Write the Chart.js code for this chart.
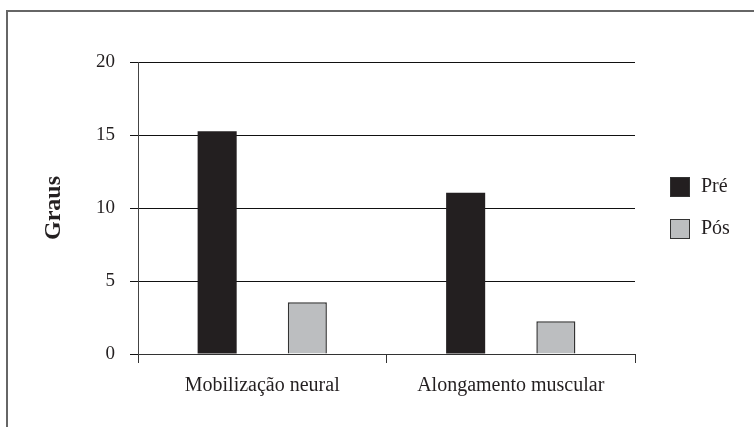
<!DOCTYPE html>
<html>
<head>
<meta charset="utf-8">
<script src="https://cdn.jsdelivr.net/npm/chart.js@4"></script>
<style>
  html, body { margin: 0; padding: 0; background: #fff; }
  #wrap { width: 754px; height: 427px; position: relative; }
</style>
</head>
<body>
<div id="wrap"><canvas id="chart"></canvas></div>
<script>
const categories = ['Mobilização neural', 'Alongamento muscular'];
const preValues = [15.25, 11.05];
const posValues = [3.55, 2.25];
const seriesNames = ['Pré', 'Pós'];
const yTicks = [0, 5, 10, 15, 20];

const FONT = "'Liberation Serif', 'Times New Roman', serif";

// frame around the figure + custom legend
const framePlugin = {
    id: 'frame',
    afterDraw(chart) {
        const ctx = chart.ctx;
        ctx.save();
        ctx.strokeStyle = '#666';
        ctx.lineWidth = 2;
        ctx.beginPath();
        ctx.moveTo(7, 430);
        ctx.lineTo(7, 11);
        ctx.lineTo(754, 11);
        ctx.stroke();

        // legend
        const area = chart.chartArea;
        const mid = (area.top + area.bottom) / 2;
        chart.data.datasets.forEach((ds, i) => {
            const y = mid - 21 + i * 42;
            ctx.fillStyle = ds.backgroundColor;
            ctx.fillRect(670, y - 10, 20, 20);
            ctx.strokeStyle = '#333';
            ctx.lineWidth = 1;
            ctx.strokeRect(670.5, y - 9.5, 19, 19);
            ctx.fillStyle = '#231f20';
            ctx.font = '20px ' + FONT;
            ctx.textBaseline = 'middle';
            ctx.fillText(ds.label, 701, y);
        });
        ctx.restore();
    }
};

new Chart(document.getElementById('chart'), {
    type: 'bar',
    data: {
        labels: categories,
        datasets: [
            {
                label: seriesNames[0],
                data: preValues,
                backgroundColor: '#231f20',
                borderColor: '#231f20',
                borderWidth: 0
            },
            {
                label: seriesNames[1],
                data: posValues,
                backgroundColor: '#bcbec0',
                borderColor: '#333',
                borderWidth: 1.5
            }
        ]
    },
    options: {
        responsive: true,
        maintainAspectRatio: false,
        animation: false,
        categoryPercentage: 0.726,
        barPercentage: 0.433,
        layout: { padding: { left: 0, right: 119, top: 62, bottom: 0 } },
        plugins: {
            legend: { display: false },
            tooltip: { enabled: false }
        },
        scales: {
            x: {
                grid: {
                    offset: true,
                    drawOnChartArea: false,
                    drawTicks: true,
                    tickLength: 9,
                    color: '#333'
                },
                border: { color: '#333' },
                ticks: {
                    color: '#231f20',
                    padding: 11,
                    font: { family: FONT, size: 20 }
                },
                afterFit(scale) { scale.height = 73; }
            },
            y: {
                min: 0,
                max: 20,
                afterBuildTicks(scale) {
                    scale.ticks = yTicks.map(v => ({ value: v }));
                },
                grid: {
                    color: '#111',
                    tickLength: 8,
                    lineWidth: 1
                },
                border: { color: '#444' },
                ticks: {
                    color: '#231f20',
                    padding: 15,
                    font: { family: FONT, size: 19 }
                },
                title: {
                    display: true,
                    text: 'Graus',
                    color: '#231f20',
                    padding: { top: 39, bottom: 0 },
                    font: { family: FONT, size: 24, weight: 'bold' }
                },
                afterFit(scale) { scale.width = 138; }
            }
        }
    },
    plugins: [framePlugin]
});
</script>
</body>
</html>
